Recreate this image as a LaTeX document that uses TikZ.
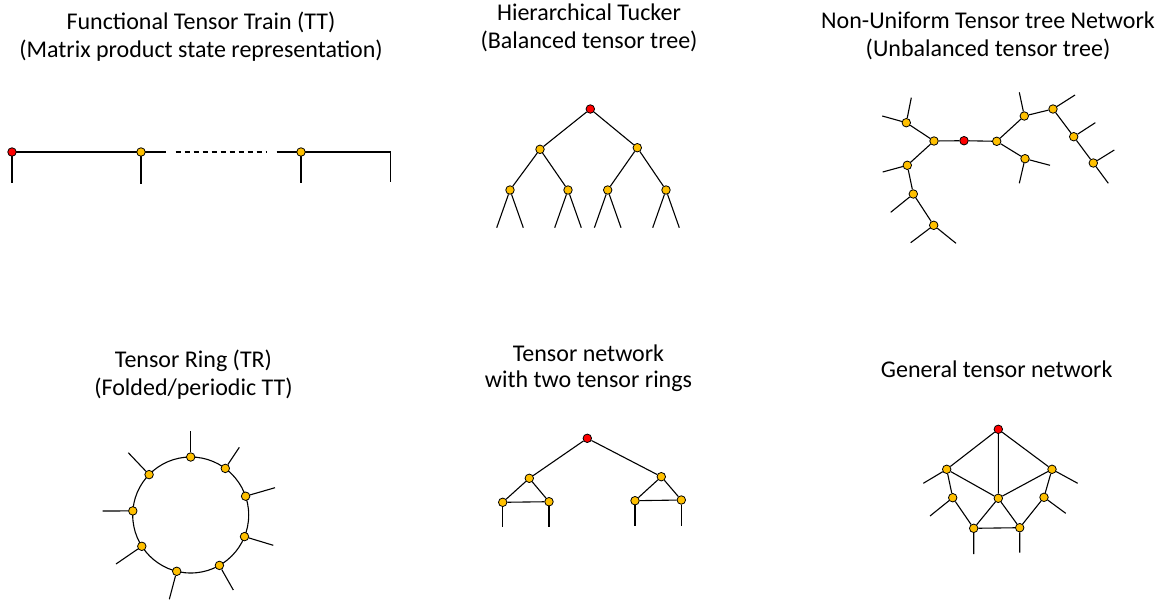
\documentclass[tikz,border=0pt]{standalone}
\usepackage{fontspec}
\setmainfont{Carlito}
\definecolor{nodeyel}{HTML}{FFC000}
\definecolor{nodered}{HTML}{FF0000}
\begin{document}
\begin{tikzpicture}[x=1pt,y=-1pt,
  tn/.style={circle,draw=black,line width=0.8pt,fill=nodeyel,inner sep=0pt,minimum size=8.5pt},
  rn/.style={tn,fill=nodered},
  edge/.style={draw=black,line width=1.1pt},
  title/.style={anchor=base,inner sep=0pt,font=\fontsize{24}{28}\selectfont}]
\useasboundingbox (0,0) rectangle (1162,600);

% ---------- titles ----------
\node[title] (t1a) at (201,29) {Functional Tensor Train (TT)};
\node[title] (t1b) at (201,57) {(Matrix product state representation)};
\node[title] (t2a) at (589,20) {Hierarchical Tucker};
\node[title] (t2b) at (589,48) {(Balanced tensor tree)};
\node[title] (t3a) at (988,28) {Non-Uniform Tensor tree Network};
\node[title] (t3b) at (988,56) {(Unbalanced tensor tree)};
\node[title] (t4a) at (193.5,367) {Tensor Ring (TR)};
\node[title] (t4b) at (193.5,395) {(Folded/periodic TT)};
\node[title] (t5a) at (588.5,361) {Tensor network};
\node[title] (t5b) at (588.5,387) {with two tensor rings};
\node[title] (t6a) at (996.7,377) {General tensor network};

% ---------- Panel 1: TT ----------
\coordinate (a0leg) at (12,183);
\coordinate (a1leg) at (141,184);
\coordinate (a1end) at (165.7,152);
\coordinate (dstart) at (175.7,152);
\coordinate (dend) at (266.7,152);
\coordinate (a2start) at (276.7,152);
\coordinate (a2leg) at (301,182.7);
\coordinate (acorner) at (390.7,152);
\coordinate (aend) at (390.7,181.7);
\draw[edge] (12,152) coordinate (a0c) -- (a1end);
\draw[edge] (a0c) -- (a0leg);
\draw[edge] (141,152) coordinate (a1c) -- (a1leg);
\draw[edge,dash pattern=on 5pt off 4pt] (dstart) -- (dend);
\draw[edge] (a2start) -- (acorner) -- (aend);
\draw[edge] (301,152) coordinate (a2c) -- (a2leg);
\node[rn] (a0) at (a0c) {};
\node[tn] (a1) at (a1c) {};
\node[tn] (a2) at (a2c) {};

% ---------- Panel 2: HT ----------
\node[rn] (h0) at (590.3,109) {};
\node[tn] (h1) at (540,149.3) {};
\node[tn] (h2) at (637.3,147.7) {};
\node[tn] (h3) at (510,190) {};
\node[tn] (h4) at (568,190) {};
\node[tn] (h5) at (607.7,190) {};
\node[tn] (h6) at (666,190) {};
\draw[edge] (h0) -- (h1) (h0) -- (h2) (h1) -- (h3) (h1) -- (h4) (h2) -- (h5) (h2) -- (h6);
\foreach \n/\x in {h3/510,h4/568,h5/607.7,h6/666}{
  \coordinate (\n l) at (\x-13.3,227.7);
  \coordinate (\n r) at (\x+13.3,227.7);
  \draw[edge] (\n) -- (\n l) (\n) -- (\n r);
}

% ---------- Panel 3: unbalanced tree ----------
\node[rn] (u0) at (964,140.7) {};
\node[tn] (uL) at (934,141) {};
\node[tn] (uR) at (996.7,141.3) {};
\node[tn] (uLu) at (906.3,122.7) {};
\node[tn] (uL1) at (907.3,165.3) {};
\node[tn] (uL2) at (913.3,194) {};
\node[tn] (uL3) at (933.7,225.3) {};
\node[tn] (uR1) at (1024.3,116) {};
\node[tn] (uR2) at (1053,109) {};
\node[tn] (uR3) at (1073.7,136.7) {};
\node[tn] (uR4) at (1093.3,163) {};
\node[tn] (uRl) at (1025,158.7) {};
\coordinate (uLua) at (882.3,116);
\coordinate (uLub) at (911.3,97.7);
\coordinate (uL1a) at (882.7,172);
\coordinate (uL2a) at (890.7,212.3);
\coordinate (uL3a) at (910.7,242.7);
\coordinate (uL3b) at (956,243.3);
\coordinate (uR1a) at (1019.3,92.3);
\coordinate (uR2a) at (1075,95);
\coordinate (uR3a) at (1095.3,122.7);
\coordinate (uR4a) at (1114.3,150);
\coordinate (uR4b) at (1108.3,183.3);
\coordinate (uRla) at (1050,165.3);
\coordinate (uRlb) at (1019.3,183.3);
\draw[edge] (u0) -- (uL) (u0) -- (uR) (uL) -- (uLu) (uL) -- (uL1) (uL1) -- (uL2) (uL2) -- (uL3)
  (uR) -- (uR1) (uR1) -- (uR2) (uR2) -- (uR3) (uR3) -- (uR4) (uR) -- (uRl);
\draw[edge] (uLu) -- (uLua) (uLu) -- (uLub) (uL1) -- (uL1a) (uL2) -- (uL2a)
  (uL3) -- (uL3a) (uL3) -- (uL3b) (uR1) -- (uR1a) (uR2) -- (uR2a) (uR3) -- (uR3a)
  (uR4) -- (uR4a) (uR4) -- (uR4b) (uRl) -- (uRla) (uRl) -- (uRlb);

% ---------- Panel 4: tensor ring ----------
\coordinate (rc) at (190.7,515);
\draw[edge] (rc) circle[radius=58pt];
\foreach \i/\px/\py/\lx/\ly in {
  1/190.7/457/190.7/431,
  2/225.3/468.4/239.3/447.3,
  3/245.6/496.2/275/487.7,
  4/244.5/536.6/273.3/545.3,
  5/219.4/565.4/233.3/590,
  6/176.7/571.3/169.3/599.3,
  7/141.8/546.3/116/564,
  8/132.8/510.9/102.7/511,
  9/149.1/474.6/128.3/452.7}{
  \coordinate (r\i leg) at (\lx,\ly);
  \node[tn] (r\i) at (\px,\py) {};
  \draw[edge] (r\i) -- (r\i leg);
}

% ---------- Panel 5: two tensor rings ----------
\node[rn] (w0) at (587.3,438.3) {};
\node[tn] (wL) at (529.3,478.3) {};
\node[tn] (wLa) at (502.7,502.3) {};
\node[tn] (wLb) at (549,501.7) {};
\node[tn] (wR) at (661.3,476.7) {};
\node[tn] (wRa) at (635,500.7) {};
\node[tn] (wRb) at (681.3,500) {};
\coordinate (wLal) at (502.7,527.3);
\coordinate (wLbl) at (549,527.3);
\coordinate (wRal) at (635,526);
\coordinate (wRbl) at (681.3,526);
\draw[edge] (w0) -- (wL) (w0) -- (wR) (wL) -- (wLa) (wL) -- (wLb) (wLa) -- (wLb)
  (wR) -- (wRa) (wR) -- (wRb) (wRa) -- (wRb);
\draw[edge] (wLa) -- (wLal) (wLb) -- (wLbl) (wRa) -- (wRal) (wRb) -- (wRbl);

% ---------- Panel 6: general tensor network ----------
\node[rn] (g0) at (998.3,429.3) {};
\node[tn] (gLT) at (946.7,469.3) {};
\node[tn] (gRT) at (1052,469.3) {};
\node[tn] (gC) at (998.3,498.3) {};
\node[tn] (gLM) at (952.7,497.7) {};
\node[tn] (gRM) at (1044,497.3) {};
\node[tn] (gBL) at (973.7,528.3) {};
\node[tn] (gBR) at (1019.7,527.7) {};
\coordinate (gLTa) at (923.3,483.3);
\coordinate (gRTa) at (1077.7,483.3);
\coordinate (gLMa) at (930,516);
\coordinate (gRMa) at (1065.7,513.3);
\coordinate (gBLa) at (973.7,554);
\coordinate (gBRa) at (1019.7,552.7);
\draw[edge] (g0) -- (gLT) (g0) -- (gRT) (g0) -- (gC) (gLT) -- (gC) (gRT) -- (gC)
  (gLT) -- (gLM) (gRT) -- (gRM) (gLM) -- (gBL) (gRM) -- (gBR)
  (gC) -- (gBL) (gC) -- (gBR) (gBL) -- (gBR);
\draw[edge] (gLT) -- (gLTa) (gRT) -- (gRTa) (gLM) -- (gLMa) (gRM) -- (gRMa)
  (gBL) -- (gBLa) (gBR) -- (gBRa);
\end{tikzpicture}
\end{document}
